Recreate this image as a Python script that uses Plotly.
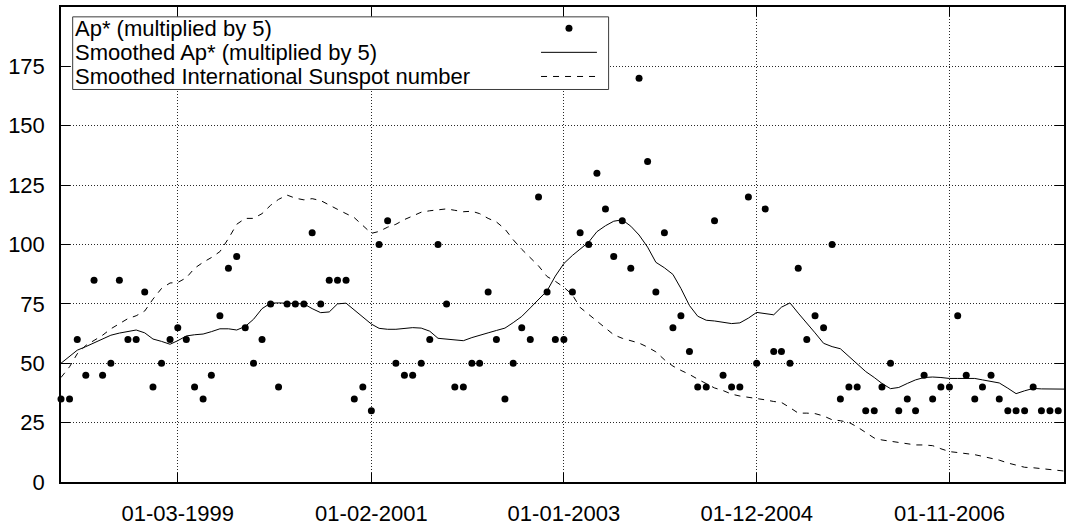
import pandas as pd
import plotly.graph_objects as go

# Monthly series, January 1998 .. January 2008
months = pd.date_range("1998-01-01", periods=121, freq="MS")

# Monthly Ap* index multiplied by 5
ap_star_x5 = [
    35, 35, 60, 45, 85, 45, 50, 85, 60, 60, 80, 40,        # 1998
    50, 60, 65, 60, 40, 35, 45, 70, 90, 95, 65, 50,        # 1999
    60, 75, 40, 75, 75, 75, 105, 75, 85, 85, 85, 35,       # 2000
    40, 30, 100, 110, 50, 45, 45, 50, 60, 100, 75, 40,     # 2001
    40, 50, 50, 80, 60, 35, 50, 65, 60, 120, 80, 60,       # 2002
    60, 80, 105, 100, 130, 115, 95, 110, 90, 170, 135, 80,  # 2003
    105, 65, 70, 55, 40, 40, 110, 45, 40, 40, 120, 50,     # 2004
    115, 55, 55, 50, 90, 60, 70, 65, 100, 35, 40, 40,      # 2005
    30, 30, 40, 50, 30, 35, 30, 45, 35, 40, 40, 70,        # 2006
    45, 35, 40, 45, 35, 30, 30, 30, 40, 30, 30, 30,        # 2007
    35,                                                    # 2008
]

# 13-month smoothed Ap* multiplied by 5
smoothed_ap_x5 = [
    50, 53, 55.5, 57, 58.5, 60, 61.8, 62.7, 63.5, 64, 62.8, 60.2,
    59.2, 58, 59.5, 61.5, 62, 62.3, 63.3, 64.5, 64.5, 64, 65.5, 68.5,
    73, 75.3, 75.4, 75.3, 75.3, 75, 73, 71.3, 71.6, 75, 75.3, 72.5,
    69.5, 66.5, 64.7, 64.3, 64.3, 64.5, 65, 64.8, 63.5, 60.5, 60.2, 60,
    59.5, 60.8, 61.9, 62.8, 63.8, 64.8, 67.1, 69.7, 73.3, 76.8, 80.5, 86.7,
    92, 95.4, 98, 101, 105.4, 107.9, 109.8, 110.4, 107.7, 104, 98.9, 92.5,
    90.2, 87.4, 81.5, 74.3, 69.8, 68.1, 67.8, 67.3, 66.7, 67, 69, 71.4,
    70.9, 70.4, 73.6, 75.4, 71.1, 67, 62.8, 58.4, 57, 56.1, 52.9, 49.7,
    46.5, 44, 41.5, 39.3, 39.8, 41.5, 43, 44, 44.2, 44, 43.6, 43.6,
    43.6, 43.6, 43, 42.3, 41.7, 39.5, 37.2, 38.4, 39.4, 39.2, 39.1, 39.1,
    39.1,
]

# 13-month smoothed International Sunspot number
smoothed_sunspot = [
    44, 48.5, 54, 57.5, 59.6, 61.8, 64.5, 66.5, 68.8, 70, 72, 77,
    81.5, 83.8, 84, 86, 90, 92.5, 94.5, 97, 102.5, 108.5, 111, 111,
    113, 116.5, 119, 120.8, 119.5, 118.8, 119.3, 118.5, 116.5, 114.8, 113, 111.3,
    108, 104.7, 105.5, 107.3, 108.5, 110.5, 112, 113.6, 114.2, 114.6, 115, 114.4,
    113.8, 114, 113, 111, 109.5, 106.5, 102, 98, 94.5, 91, 86.5, 84.5,
    82, 78.8, 73.5, 70.5, 67.5, 64.5, 62, 60.5, 59.6, 58.5, 56.8, 54.8,
    51.5, 48.8, 47, 45.3, 43.3, 41.3, 39.6, 38.5, 37, 36.2, 35.7, 35.1,
    34.6, 33.9, 33.5, 31.3, 29, 29, 28.8, 27.8, 26.2, 25.8, 25.1, 23.2,
    21, 18.5, 17.7, 17.2, 16.6, 16, 15.6, 15.6, 15.3, 14, 12.8, 12.4,
    12, 11.5, 10.8, 10, 9.2, 8, 7, 6.2, 6, 5.7, 5.3, 4.8,
    4.5,
]

x_tick_dates = ["1999-03-01", "2001-02-01", "2003-01-01", "2004-12-01", "2006-11-01"]
x_tick_labels = ["01-03-1999", "01-02-2001", "01-01-2003", "01-12-2004", "01-11-2006"]
y_tick_values = [0, 25, 50, 75, 100, 125, 150, 175]

legend_labels = [
    "Ap* (multiplied by 5)",
    "Smoothed Ap* (multiplied by 5)",
    "Smoothed International Sunspot number",
]

# page geometry (pixels)
WIDTH, HEIGHT = 1066, 526
M_LEFT, M_RIGHT, M_TOP, M_BOTTOM = 61, 0, 7, 37
PLOT_W = WIDTH - M_LEFT - M_RIGHT
PLOT_H = HEIGHT - M_TOP - M_BOTTOM

FONT = "Liberation Sans, Arial, sans-serif"
FONT_SIZE = 22
GRID = "rgb(40,40,40)"


def px_x(px):
    return (px - M_LEFT) / PLOT_W


def px_y(py):
    return (HEIGHT - M_BOTTOM - py) / PLOT_H


fig = go.Figure()

fig.add_trace(go.Scatter(
    x=months, y=ap_star_x5, mode="markers", name=legend_labels[0],
    marker=dict(color="black", size=7, line=dict(width=0)),
    cliponaxis=False, showlegend=False,
))
fig.add_trace(go.Scatter(
    x=months, y=smoothed_ap_x5, mode="lines", name=legend_labels[1],
    line=dict(color="black", width=1), showlegend=False,
))
fig.add_trace(go.Scatter(
    x=months, y=smoothed_sunspot, mode="lines", name=legend_labels[2],
    line=dict(color="black", width=1, dash="6px,6px"), showlegend=False,
))

axis_common = dict(
    ticks="inside", ticklen=9, tickwidth=1, tickcolor="black",
    showline=True, linecolor="black", linewidth=1.5, mirror="ticks",
    showgrid=True, gridcolor=GRID, gridwidth=1, griddash="1px,2px",
    zeroline=False, tickfont=dict(family=FONT, size=FONT_SIZE, color="black"),
)

fig.update_xaxes(
    type="date", range=["1998-01-01", "2007-12-22"],
    tickmode="array", tickvals=x_tick_dates, ticktext=x_tick_labels,
    ticklabelstandoff=11, **axis_common,
)
fig.update_yaxes(
    range=[0, 200], tickmode="array", tickvals=y_tick_values,
    ticklabelstandoff=10, **axis_common,
)

# key box: labels on the left, samples on the right
box_l, box_r, box_t, box_b = 72.7, 609.7, 17, 90.7
fig.add_shape(type="rect", xref="paper", yref="paper",
              x0=px_x(box_l), x1=px_x(box_r), y0=px_y(box_b), y1=px_y(box_t),
              line=dict(color="rgb(60,60,60)", width=1), fillcolor="white", layer="above")

row_y = [28.5, 53, 77.5]
for label, ry in zip(legend_labels, row_y):
    fig.add_annotation(
        x=px_x(73.5), y=px_y(ry), xref="paper", yref="paper",
        text=label, showarrow=False, xanchor="left", yanchor="middle",
        font=dict(family=FONT, size=FONT_SIZE, color="black"),
    )

sample_l, sample_r = 542, 598
fig.add_shape(type="circle", xref="paper", yref="paper",
              xsizemode="pixel", ysizemode="pixel",
              xanchor=px_x(570), yanchor=px_y(row_y[0]),
              x0=-3.5, x1=3.5, y0=-3.5, y1=3.5,
              fillcolor="black", line=dict(width=0), layer="above")
fig.add_shape(type="line", xref="paper", yref="paper",
              x0=px_x(sample_l), x1=px_x(sample_r), y0=px_y(row_y[1]), y1=px_y(row_y[1]),
              line=dict(color="black", width=1), layer="above")
fig.add_shape(type="line", xref="paper", yref="paper",
              x0=px_x(sample_l), x1=px_x(sample_r), y0=px_y(row_y[2]), y1=px_y(row_y[2]),
              line=dict(color="black", width=1, dash="6px,6px"), layer="above")

fig.update_layout(
    width=WIDTH, height=HEIGHT,
    margin=dict(l=M_LEFT, r=M_RIGHT, t=M_TOP, b=M_BOTTOM, pad=0),
    paper_bgcolor="white", plot_bgcolor="white",
    font=dict(family=FONT, size=FONT_SIZE, color="black"),
    showlegend=False,
)

fig.write_html("out.html")
